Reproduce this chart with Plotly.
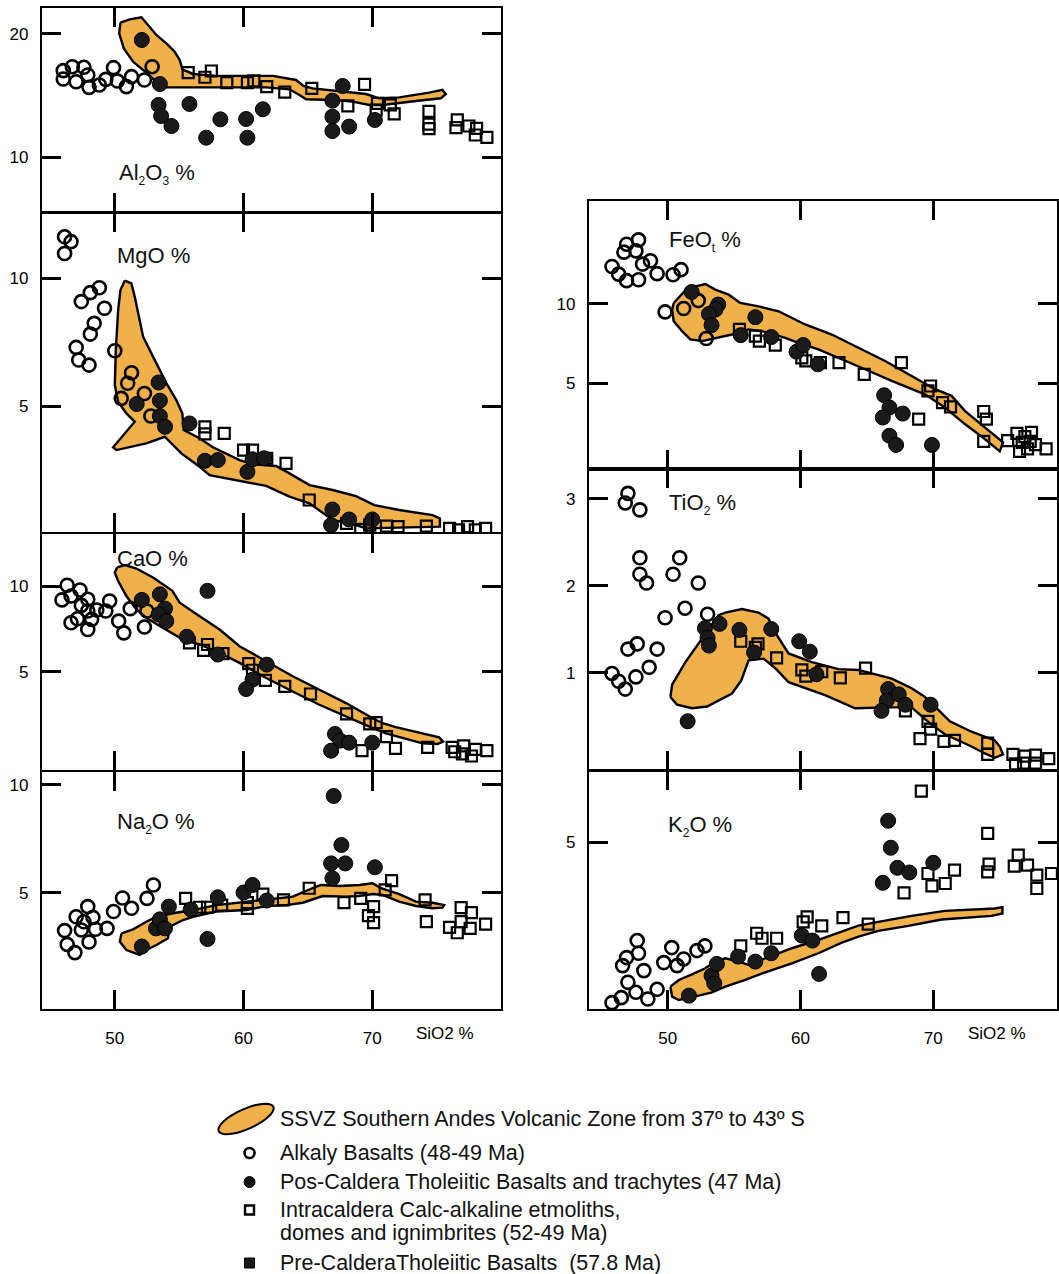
import math
import plotly.graph_objects as go

W, H = 1059, 1274
FONT = "Liberation Sans, Arial, Helvetica, sans-serif"

# ---------------- DATA (SiO2 wt% vs oxide wt%) ----------------
# Al2O3
al_alk_si = [46.0, 46.0, 46.7, 47.0, 47.6, 47.9, 48.0, 48.8, 49.3, 49.9, 50.2, 50.9, 51.3, 52.3, 52.9]
al_alk = [16.34, 17.02, 17.34, 16.12, 17.29, 16.67, 15.66, 15.85, 16.31, 17.26, 16.18, 15.72, 16.53, 16.26, 17.34]
al_pos_si = [52.1, 53.5, 53.4, 53.6, 54.4, 55.8, 57.1, 58.2, 60.2, 60.3, 61.5, 66.9, 67.7, 66.9, 66.9, 68.2, 70.2]
al_pos = [19.51, 15.93, 14.23, 13.33, 12.52, 14.31, 11.57, 13.06, 13.09, 11.57, 13.88, 14.58, 15.77, 13.28, 12.11, 12.47, 13.01]
al_int_si = [55.7, 57.0, 57.5, 58.7, 60.3, 60.8, 61.8, 63.2, 65.3, 68.1, 69.4, 70.3, 70.4, 71.4, 71.7, 74.4, 74.4, 74.4, 76.5, 76.6, 77.5, 78.1, 78.0, 78.9]
al_int = [16.86, 16.48, 16.99, 16.04, 16.04, 16.18, 15.72, 15.28, 15.58, 14.15, 15.91, 13.82, 14.36, 14.23, 13.5, 13.71, 12.68, 12.3, 12.38, 13.01, 12.52, 12.33, 11.79, 11.6]
al_ssvz_si = [50.44, 51.16, 52.07, 52.58, 53.23, 54.13, 54.65, 55.04, 55.25, 56.07, 57.88, 60.21, 62.27, 64.08, 64.65, 65.37, 67.7, 69.51, 70.54, 72.09, 74.42, 75.45, 75.71, 75.32, 73.39, 70.8, 69.77, 68.48, 66.93, 64.86, 64.34, 63.57, 61.76, 59.17, 57.11, 55.56, 54.01, 53.23, 52.45, 51.42, 50.7, 50.34]
al_ssvz = [20.92, 21.19, 21.36, 20.73, 19.92, 19.11, 18.56, 17.89, 17.13, 16.75, 16.59, 16.59, 16.59, 16.26, 15.77, 15.58, 15.31, 15.12, 14.77, 14.85, 15.23, 15.45, 15.12, 14.77, 14.55, 14.23, 14.23, 14.5, 14.63, 14.69, 15.04, 15.5, 15.66, 15.66, 15.72, 15.66, 15.66, 16.12, 16.86, 17.75, 18.83, 20.05]

# MgO
mg_alk_si = [46.1, 46.6, 46.1, 47.4, 48.1, 48.8, 49.2, 48.4, 48.1, 47.0, 47.2, 48.0, 50.0, 51.3, 51.0, 52.3, 50.5, 52.8]
mg_alk = [11.61, 11.42, 10.96, 9.08, 9.43, 9.62, 8.82, 8.23, 7.81, 7.29, 6.8, 6.6, 7.16, 6.3, 5.89, 5.49, 5.3, 4.61]
mg_pos_si = [53.4, 53.5, 51.7, 53.5, 53.9, 55.8, 57.0, 58.0, 60.3, 60.7, 61.6, 66.9, 68.2, 70.0, 66.8]
mg_pos = [5.92, 5.21, 5.08, 4.61, 4.19, 4.32, 2.86, 2.89, 2.43, 2.92, 2.96, 0.96, 0.57, 0.57, 0.35]
mg_int_si = [57.0, 57.0, 58.5, 60.0, 60.7, 61.8, 63.3, 65.1, 68.0, 69.1, 69.8, 71.1, 72.0, 74.2, 76.0, 77.4, 78.0, 78.8, 76.7]
mg_int = [4.19, 3.91, 3.93, 3.28, 3.28, 2.96, 2.76, 1.33, 0.42, 0.18, 0.35, 0.31, 0.29, 0.31, 0.22, 0.29, 0.16, 0.22, 0.16]
mg_ssvz_si = [50.78, 51.29, 51.55, 52.2, 52.97, 54.01, 54.78, 55.25, 55.35, 56.59, 57.62, 59.69, 60.72, 62.53, 63.57, 65.12, 66.93, 68.73, 70.16, 72.09, 74.68, 75.25, 75.25, 73.39, 69.51, 68.73, 66.93, 65.12, 63.57, 61.76, 59.17, 57.36, 56.59, 55.17, 53.88, 52.45, 50.13, 49.87, 51.55, 50.9, 50.26, 50.0, 50.08, 50.26, 50.44]
mg_ssvz = [9.9, 9.79, 9.27, 7.71, 6.93, 5.89, 5.23, 4.71, 4.06, 3.74, 3.39, 2.89, 2.73, 2.66, 2.37, 1.91, 1.72, 1.48, 1.13, 0.94, 0.74, 0.61, 0.29, 0.26, 0.22, 0.35, 0.55, 1.2, 1.46, 1.88, 2.11, 2.3, 2.63, 3.15, 3.8, 3.54, 3.28, 3.39, 4.39, 4.71, 5.17, 5.82, 7.19, 8.75, 9.53]

# CaO
ca_alk_si = [46.3, 47.3, 45.9, 46.6, 47.9, 47.4, 48.6, 47.9, 47.1, 48.2, 46.6, 47.9, 49.3, 49.6, 50.3, 50.7, 51.2, 52.3, 52.5]
ca_alk = [10.06, 9.78, 9.2, 9.43, 9.24, 8.88, 8.61, 8.55, 8.1, 8.06, 7.86, 7.47, 8.55, 9.14, 7.96, 7.27, 8.69, 7.61, 8.55]
ca_pos_si = [52.1, 53.5, 53.9, 53.4, 54.0, 55.6, 57.2, 58.0, 61.8, 60.7, 60.2, 67.1, 67.5, 68.2, 66.8, 70.0]
ca_pos = [9.2, 9.53, 8.69, 8.35, 7.96, 7.04, 9.73, 6.0, 5.41, 4.53, 3.98, 1.35, 0.96, 0.84, 0.37, 0.84]
ca_int_si = [55.8, 56.9, 57.2, 58.4, 60.4, 60.7, 61.7, 63.2, 65.2, 68.0, 69.8, 70.3, 71.1, 71.8, 69.2, 74.3, 76.2, 76.4, 77.1, 77.0, 77.7, 78.0, 78.9]
ca_int = [6.69, 6.25, 6.59, 6.06, 5.47, 5.08, 4.49, 4.14, 3.69, 2.53, 1.94, 2.02, 1.2, 0.51, 0.37, 0.57, 0.57, 0.31, 0.65, 0.18, 0.06, 0.45, 0.37]
ca_ssvz_si = [50.18, 50.78, 51.68, 52.97, 54.47, 55.04, 56.59, 58.14, 59.69, 61.76, 63.82, 65.89, 67.96, 70.03, 70.8, 71.83, 73.39, 75.19, 75.5, 75.06, 73.9, 71.06, 69.77, 67.96, 65.89, 63.82, 61.5, 59.69, 58.14, 56.59, 55.3, 53.49, 52.45, 51.68, 50.9, 50.26, 50.0]
ca_ssvz = [11.1, 11.24, 11.04, 10.51, 9.73, 9.04, 8.25, 7.47, 6.49, 5.61, 4.73, 3.94, 3.16, 2.27, 1.98, 1.75, 1.49, 1.16, 0.9, 0.76, 0.8, 1.39, 1.78, 2.37, 3.06, 3.84, 4.73, 5.51, 6.1, 6.59, 6.88, 7.67, 8.16, 8.65, 9.43, 10.31, 10.8]

# Na2O
na_alk_si = [46.1, 46.3, 46.9, 47.0, 47.4, 47.9, 48.3, 47.6, 48.0, 48.5, 49.4, 49.9, 50.6, 51.3, 52.5, 53.0]
na_alk = [3.26, 2.62, 2.24, 3.9, 3.29, 4.37, 3.87, 3.67, 2.73, 3.32, 3.36, 4.14, 4.77, 4.29, 4.75, 5.37]
na_pos_si = [52.1, 53.2, 53.5, 53.9, 54.2, 55.9, 57.2, 58.0, 60.0, 60.7, 61.8, 67.0, 67.6, 66.8, 67.9, 66.9, 70.2]
na_pos = [2.52, 3.36, 3.78, 3.36, 4.37, 4.24, 2.87, 4.8, 5.02, 5.37, 4.65, 9.49, 7.22, 6.37, 6.37, 5.68, 6.19]
na_int_si = [55.5, 56.6, 57.2, 58.3, 60.3, 60.3, 61.5, 63.1, 65.1, 67.8, 69.1, 70.1, 69.7, 70.1, 71.0, 71.5, 74.1, 74.2, 76.0, 76.6, 76.9, 76.9, 77.6, 77.7, 78.8]
na_int = [4.75, 4.34, 4.34, 4.44, 4.29, 4.55, 4.95, 4.68, 5.22, 4.55, 4.75, 4.37, 3.95, 3.63, 5.14, 5.57, 4.68, 3.67, 3.41, 3.16, 4.32, 3.67, 3.36, 4.09, 3.56]
na_ssvz_si = [50.52, 51.42, 52.45, 53.23, 54.52, 56.07, 57.88, 59.69, 61.76, 63.82, 65.37, 66.02, 67.44, 68.99, 70.03, 70.67, 72.09, 73.39, 74.68, 75.58, 75.45, 74.68, 73.39, 72.09, 70.8, 70.03, 68.99, 67.96, 66.15, 64.6, 63.31, 61.76, 60.21, 57.88, 56.07, 55.3, 54.26, 54.13, 53.23, 52.45, 51.94, 50.9, 50.39]
na_ssvz = [3.13, 3.32, 3.67, 3.9, 4.06, 4.21, 4.44, 4.55, 4.71, 4.83, 5.22, 5.37, 5.32, 5.37, 5.45, 5.22, 4.95, 4.6, 4.55, 4.44, 4.32, 4.29, 4.4, 4.6, 4.91, 4.95, 4.86, 4.83, 4.86, 4.55, 4.44, 4.4, 4.21, 4.14, 3.9, 3.75, 3.44, 2.9, 2.59, 2.36, 2.13, 2.36, 2.75]

# FeOt
fe_alk_si = [45.8, 46.3, 46.9, 47.8, 46.7, 46.9, 47.8, 47.6, 48.1, 48.7, 49.2, 50.4, 51.0, 49.8, 51.2, 52.3, 52.9]
fe_alk = [12.33, 11.85, 11.44, 11.5, 13.23, 13.73, 14.0, 13.31, 12.48, 12.69, 11.88, 11.81, 12.13, 9.48, 9.69, 10.19, 7.81]
fe_pos_si = [51.8, 53.8, 53.6, 53.1, 53.3, 55.5, 56.6, 57.8, 59.7, 60.2, 61.3, 66.3, 66.7, 66.2, 67.7, 66.7, 67.2, 69.9]
fe_pos = [10.73, 9.94, 9.63, 9.35, 8.65, 8.02, 9.15, 7.9, 6.98, 7.4, 6.19, 4.25, 3.48, 2.85, 3.1, 1.71, 1.13, 1.13]
fe_int_si = [55.4, 56.6, 56.9, 58.1, 60.1, 60.4, 61.5, 62.9, 64.8, 67.6, 68.9, 69.6, 69.8, 70.7, 71.3, 73.8, 74.0, 73.8, 75.6, 76.3, 76.7, 76.9, 77.4, 77.3, 77.7, 76.5, 77.1, 78.5]
fe_int = [8.38, 7.96, 7.65, 7.4, 6.6, 6.4, 6.29, 6.29, 5.56, 6.29, 2.75, 4.52, 4.83, 3.79, 3.52, 3.23, 2.75, 1.35, 1.4, 1.85, 1.29, 1.65, 1.92, 1.35, 1.15, 0.73, 0.88, 0.88]
fe_ssvz_si = [50.45, 51.45, 52.83, 53.58, 54.59, 55.46, 56.84, 58.35, 60.35, 62.36, 64.36, 66.37, 68.37, 70.13, 71.38, 72.38, 73.88, 75.26, 75.01, 73.88, 72.38, 70.88, 69.37, 66.87, 64.86, 62.86, 61.35, 59.85, 58.85, 57.34, 56.09, 54.84, 53.58, 52.58, 51.7, 51.08, 50.45, 50.33]
fe_ssvz = [10.04, 10.94, 11.23, 10.88, 10.56, 10.04, 9.83, 9.52, 8.69, 8.06, 7.23, 6.4, 5.46, 4.63, 4.21, 3.27, 2.23, 1.29, 0.73, 1.5, 2.44, 3.48, 4.31, 5.15, 5.88, 6.6, 7.13, 7.54, 7.85, 8.23, 8.38, 8.06, 7.81, 7.65, 7.75, 8.27, 8.9, 9.63]

# TiO2
ti_alk_si = [47.0, 46.8, 47.9, 47.9, 47.9, 48.4, 50.4, 50.9, 52.3, 51.3, 49.8, 53.0, 47.0, 47.7, 49.2, 48.6, 47.6, 45.8, 46.3, 46.8]
ti_alk = [3.06, 2.95, 2.87, 2.32, 2.13, 2.03, 2.13, 2.32, 2.03, 1.74, 1.63, 1.67, 1.27, 1.33, 1.27, 1.06, 0.95, 0.99, 0.9, 0.81]
ti_pos_si = [52.8, 53.0, 53.1, 53.9, 55.4, 56.5, 57.8, 59.9, 60.7, 61.2, 66.6, 66.5, 67.4, 67.9, 66.1, 69.8, 51.5]
ti_pos = [1.51, 1.4, 1.31, 1.56, 1.49, 1.23, 1.5, 1.36, 1.24, 0.98, 0.81, 0.68, 0.75, 0.63, 0.56, 0.63, 0.44]
ti_int_si = [55.5, 56.8, 56.6, 58.2, 60.1, 60.4, 61.6, 63.0, 64.9, 67.9, 69.6, 69.8, 69.0, 70.8, 71.6, 74.1, 74.1, 76.0, 76.2, 76.9, 76.8, 77.7, 77.7, 78.7]
ti_int = [1.36, 1.33, 1.29, 1.17, 1.03, 0.96, 1.01, 0.94, 1.05, 0.56, 0.44, 0.35, 0.24, 0.21, 0.22, 0.19, 0.06, 0.06, -0.05, 0.04, -0.04, 0.05, -0.04, 0.01]
ti_ssvz_si = [50.2, 50.33, 51.33, 52.58, 53.83, 54.34, 55.59, 56.84, 57.59, 58.1, 59.1, 60.85, 62.86, 64.36, 66.87, 68.37, 69.37, 70.38, 71.25, 72.88, 74.64, 75.01, 75.26, 74.64, 73.88, 72.88, 70.88, 69.87, 68.87, 68.37, 66.62, 64.11, 61.85, 59.1, 58.1, 57.22, 56.09, 55.54, 54.84, 53.83, 52.96, 51.83, 50.7]
ti_ssvz = [0.72, 0.86, 1.12, 1.39, 1.66, 1.69, 1.73, 1.69, 1.62, 1.46, 1.22, 1.12, 1.04, 1.03, 0.93, 0.82, 0.72, 0.57, 0.44, 0.32, 0.22, 0.15, 0.06, 0.02, 0.07, 0.15, 0.29, 0.4, 0.54, 0.6, 0.6, 0.59, 0.74, 0.89, 1.05, 1.16, 1.14, 0.91, 0.76, 0.68, 0.61, 0.59, 0.63]

# K2O
k_alk_si = [45.8, 46.5, 47.6, 48.5, 49.2, 47.0, 48.2, 46.6, 46.9, 47.8, 47.7, 49.7, 50.7, 51.2, 50.3, 52.2, 52.8]
k_alk = [0.19, 0.34, 0.5, 0.3, 0.59, 0.8, 1.15, 1.3, 1.54, 1.67, 2.05, 1.39, 1.3, 1.5, 1.84, 1.75, 1.89]
k_pos_si = [51.6, 53.3, 53.5, 53.7, 55.3, 56.6, 57.8, 60.1, 60.9, 61.4, 66.6, 66.8, 66.2, 67.3, 68.2, 70.0]
k_pos = [0.4, 1.0, 0.77, 1.35, 1.57, 1.42, 1.67, 2.2, 2.05, 1.05, 5.64, 4.83, 3.78, 4.23, 4.09, 4.38]
k_int_si = [55.5, 56.7, 57.1, 58.2, 60.2, 60.5, 61.6, 63.2, 65.1, 67.8, 69.1, 69.6, 69.9, 70.9, 71.6, 74.1, 74.2, 74.1, 76.1, 76.4, 77.1, 77.8, 77.8, 78.9]
k_int = [1.89, 2.27, 2.12, 2.12, 2.61, 2.76, 2.49, 2.74, 2.54, 3.48, 6.53, 4.06, 3.69, 3.76, 4.16, 5.26, 4.34, 4.11, 4.28, 4.61, 4.31, 4.01, 3.61, 4.06]
k_ssvz_si = [50.2, 50.83, 51.83, 52.83, 53.58, 54.34, 55.34, 56.09, 57.34, 59.35, 61.35, 63.36, 64.36, 65.86, 68.37, 70.88, 73.13, 74.64, 75.21, 75.21, 74.39, 71.88, 70.63, 68.12, 65.86, 64.36, 63.11, 61.35, 59.35, 57.34, 55.84, 54.34, 53.33, 52.33, 50.83, 50.33]
k_ssvz = [0.67, 0.87, 1.04, 1.22, 1.42, 1.52, 1.42, 1.32, 1.52, 1.82, 2.07, 2.37, 2.5, 2.61, 2.79, 2.94, 2.98, 3.01, 3.05, 2.86, 2.79, 2.73, 2.68, 2.49, 2.34, 2.17, 1.99, 1.67, 1.37, 1.1, 0.87, 0.67, 0.5, 0.4, 0.27, 0.37]

sio2_ticks = [50, 60, 70]

# ---------------- LAYOUT HELPERS ----------------
def pxx(p):
    return p / W

def pxy(p):
    return 1 - p / H

def sub(s):
    return f"<sub><span style='font-size:12px'>{s}</span></sub>"

LEFT_DOM = [pxx(42), pxx(502)]
RIGHT_DOM = [pxx(590), 1.0]
LEFT_RANGE = [44.34, 80.0]
RIGHT_RANGE = [44.06, 79.32]

panels = [
    dict(label=f"Al{sub(2)}O{sub(3)} %", col="L", top=8, bot=212, yr=[5.53, 22.11], yt=[10, 20], xlab=False,
         lab=(117, 174), d=(al_ssvz_si, al_ssvz, al_int_si, al_int, al_alk_si, al_alk, al_pos_si, al_pos)),
    dict(label="MgO %", col="L", top=213, bot=532, yr=[0.08, 12.54], yt=[5, 10], xlab=False,
         lab=(115, 255), d=(mg_ssvz_si, mg_ssvz, mg_int_si, mg_int, mg_alk_si, mg_alk, mg_pos_si, mg_pos)),
    dict(label="CaO %", col="L", top=534, bot=770, yr=[-0.76, 13.06], yt=[5, 10], xlab=False,
         lab=(115, 559), d=(ca_ssvz_si, ca_ssvz, ca_int_si, ca_int, ca_alk_si, ca_alk, ca_pos_si, ca_pos)),
    dict(label=f"Na{sub(2)}O %", col="L", top=772, bot=1009, yr=[-0.37, 10.6], yt=[5, 10], xlab=True,
         lab=(115, 823), d=(na_ssvz_si, na_ssvz, na_int_si, na_int, na_alk_si, na_alk, na_pos_si, na_pos)),
    dict(label=f"FeO{sub('t')} %", col="R", top=201, bot=469, yr=[-0.38, 16.44], yt=[5, 10], xlab=False,
         lab=(668, 241), d=(fe_ssvz_si, fe_ssvz, fe_int_si, fe_int, fe_alk_si, fe_alk, fe_pos_si, fe_pos)),
    dict(label=f"TiO{sub(2)} %", col="R", top=469, bot=770, yr=[-0.12, 3.34], yt=[1, 2, 3], xlab=False,
         lab=(668, 504), d=(ti_ssvz_si, ti_ssvz, ti_int_si, ti_int, ti_alk_si, ti_alk, ti_pos_si, ti_pos)),
    dict(label=f"K{sub(2)}O %", col="R", top=771, bot=1009, yr=[0.0, 7.13], yt=[5], xlab=True,
         lab=(667, 826), d=(k_ssvz_si, k_ssvz, k_int_si, k_int, k_alk_si, k_alk, k_pos_si, k_pos)),
]

ORANGE = "#F0B04A"
fig = go.Figure()
layout = dict(width=W, height=H, autosize=False, margin=dict(l=0, r=0, t=0, b=0),
              paper_bgcolor="white", plot_bgcolor="rgba(0,0,0,0)", showlegend=False,
              font=dict(family=FONT, color="black"))
annotations = []
shapes = []

for i, p in enumerate(panels, start=1):
    xa = "x" if i == 1 else f"x{i}"
    ya = "y" if i == 1 else f"y{i}"
    xkey = "xaxis" if i == 1 else f"xaxis{i}"
    ykey = "yaxis" if i == 1 else f"yaxis{i}"
    left = p["col"] == "L"
    layout[xkey] = dict(domain=LEFT_DOM if left else RIGHT_DOM, range=LEFT_RANGE if left else RIGHT_RANGE,
                        anchor=ya, tickvals=sio2_ticks, ticks="inside", ticklen=19, tickwidth=3,
                        tickcolor="black", showline=True, linecolor="black", linewidth=2.2,
                        mirror="allticks", showgrid=False, zeroline=False,
                        showticklabels=p["xlab"], ticklabelstandoff=12,
                        tickfont=dict(size=17, family=FONT, color="black"))
    layout[ykey] = dict(domain=[pxy(p["bot"]), pxy(p["top"])], range=p["yr"], anchor=xa,
                        tickvals=p["yt"], ticks="inside", ticklen=19, tickwidth=3,
                        tickcolor="black", showline=True, linecolor="black", linewidth=2.2,
                        mirror="allticks", showgrid=False, zeroline=False, ticklabelstandoff=8,
                        tickfont=dict(size=17, family=FONT, color="black"))
    ssx, ssy, ix, iy, ax_, ay, fx, fy = p["d"]
    fig.add_trace(go.Scatter(x=list(ssx) + [ssx[0]], y=list(ssy) + [ssy[0]], mode="lines",
                             fill="toself", fillcolor=ORANGE, line=dict(color="black", width=2.4),
                             xaxis=xa, yaxis=ya, hoverinfo="skip"))
    fig.add_trace(go.Scatter(x=ix, y=iy, mode="markers", xaxis=xa, yaxis=ya,
                             marker=dict(symbol="square-open", size=11, color="black",
                                         line=dict(width=2.2, color="black"))))
    fig.add_trace(go.Scatter(x=ax_, y=ay, mode="markers", xaxis=xa, yaxis=ya,
                             marker=dict(symbol="circle-open", size=13, color="black",
                                         line=dict(width=2.6, color="black"))))
    fig.add_trace(go.Scatter(x=fx, y=fy, mode="markers", xaxis=xa, yaxis=ya,
                             marker=dict(symbol="circle", size=15, color="#1a1a1a",
                                         line=dict(width=1, color="black"))))
    lx, ly = p["lab"]
    annotations.append(dict(text=p["label"], x=pxx(lx), y=pxy(ly), xref="paper", yref="paper",
                            xanchor="left", yanchor="middle", showarrow=False,
                            font=dict(size=22, family=FONT, color="#111")))

# SiO2 axis titles
for sx in (415, 968):
    annotations.append(dict(text="SiO2 %", x=pxx(sx), y=pxy(1033), xref="paper", yref="paper",
                            xanchor="left", yanchor="middle", showarrow=False,
                            font=dict(size=17, family=FONT, color="black")))

# ---------------- LEGEND (drawn as layout decorations) ----------------
legend_items = [
    ("SSVZ Southern Andes Volcanic Zone from 37º to 43º S", 1119),
    ("Alkaly Basalts (48-49 Ma)", 1153),
    ("Pos-Caldera Tholeiitic Basalts and trachytes (47 Ma)", 1182),
    ("Intracaldera Calc-alkaline etmoliths,", 1210),
    ("domes and ignimbrites (52-49 Ma)", 1233),
    ("Pre-CalderaTholeiitic Basalts  (57.8 Ma)", 1263),
]
for txt, yy in legend_items:
    annotations.append(dict(text=txt, x=pxx(279), y=pxy(yy), xref="paper", yref="paper",
                            xanchor="left", yanchor="middle", showarrow=False,
                            font=dict(size=21.5, family=FONT, color="#111")))

# tilted ellipse swatch
cx, cy, a, b, ang = 246.5, 1119, 30, 10, math.radians(-24)
pts = []
for k in range(41):
    t = 2 * math.pi * k / 40
    ex, ey = a * math.cos(t), b * math.sin(t)
    rx = cx + ex * math.cos(ang) - ey * math.sin(ang)
    ry = cy + ex * math.sin(ang) + ey * math.cos(ang)
    pts.append(f"{pxx(rx):.5f},{pxy(ry):.5f}")
shapes.append(dict(type="path", xref="paper", yref="paper", path="M" + "L".join(pts) + "Z",
                   fillcolor=ORANGE, line=dict(color="black", width=2)))

def box(xc, yc, r):
    return dict(x0=pxx(xc - r), x1=pxx(xc + r), y0=pxy(yc + r), y1=pxy(yc - r))

shapes.append(dict(type="circle", xref="paper", yref="paper", **box(250, 1153, 5),
                   line=dict(color="black", width=2.6), fillcolor="white"))
shapes.append(dict(type="circle", xref="paper", yref="paper", **box(250, 1182, 5.5),
                   line=dict(color="black", width=1), fillcolor="#111"))
shapes.append(dict(type="rect", xref="paper", yref="paper", **box(250, 1210, 4.5),
                   line=dict(color="black", width=2.4), fillcolor="white"))
shapes.append(dict(type="rect", xref="paper", yref="paper", **box(250, 1263, 5),
                   line=dict(color="black", width=1), fillcolor="#1a1a1a"))

layout["annotations"] = annotations
layout["shapes"] = shapes
fig.update_layout(**layout)
fig.write_html("out.html")
